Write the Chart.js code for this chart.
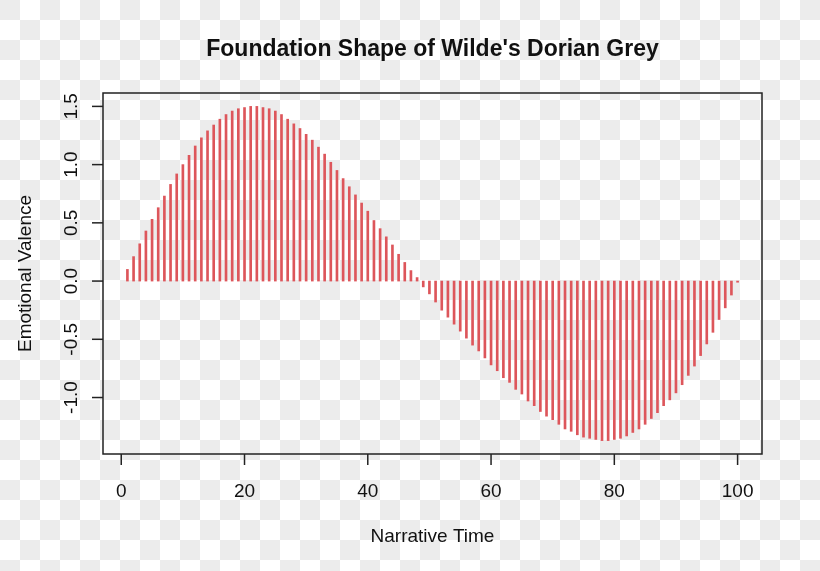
<!DOCTYPE html>
<html>
<head>
<meta charset="utf-8">
<title>Foundation Shape of Wilde's Dorian Grey</title>
<script src="https://cdn.jsdelivr.net/npm/chart.js@4"></script>
<style>
  html, body {
    margin: 0;
    padding: 0;
  }
  body {
    width: 820px;
    height: 571px;
    overflow: hidden;
    background-color: #fff;
    /* transparent-png checkerboard seen behind the original plot */
    background-image: conic-gradient(#fff 25%, #ececec 0 50%, #fff 0 75%, #ececec 0);
    background-size: 40px 40px;
  }
  #chart {
    display: block;
  }
</style>
</head>
<body>
<canvas id="chart" width="820" height="571"></canvas>
<script>
/* ---- Data ---- */
const narrativeTime = [
    1, 2, 3, 4, 5, 6, 7, 8, 9, 10,
    11, 12, 13, 14, 15, 16, 17, 18, 19, 20,
    21, 22, 23, 24, 25, 26, 27, 28, 29, 30,
    31, 32, 33, 34, 35, 36, 37, 38, 39, 40,
    41, 42, 43, 44, 45, 46, 47, 48, 49, 50,
    51, 52, 53, 54, 55, 56, 57, 58, 59, 60,
    61, 62, 63, 64, 65, 66, 67, 68, 69, 70,
    71, 72, 73, 74, 75, 76, 77, 78, 79, 80,
    81, 82, 83, 84, 85, 86, 87, 88, 89, 90,
    91, 92, 93, 94, 95, 96, 97, 98, 99, 100
];

const emotionalValence = [
    0.10, 0.21, 0.32, 0.43, 0.53, 0.63, 0.73, 0.83, 0.92, 1.00,
    1.08, 1.16, 1.23, 1.29, 1.34, 1.39, 1.43, 1.46, 1.48, 1.49,
    1.50, 1.50, 1.49, 1.48, 1.46, 1.43, 1.39, 1.35, 1.31, 1.26,
    1.21, 1.15, 1.09, 1.02, 0.95, 0.88, 0.81, 0.74, 0.67, 0.60,
    0.52, 0.45, 0.38, 0.31, 0.23, 0.16, 0.09, 0.03, -0.05, -0.11,
    -0.18, -0.25, -0.31, -0.37, -0.43, -0.49, -0.55, -0.60, -0.66, -0.72,
    -0.77, -0.83, -0.87, -0.93, -0.97, -1.03, -1.07, -1.12, -1.16, -1.19,
    -1.23, -1.27, -1.29, -1.32, -1.34, -1.35, -1.36, -1.37, -1.37, -1.36,
    -1.35, -1.33, -1.30, -1.27, -1.23, -1.18, -1.13, -1.07, -1.02, -0.96,
    -0.89, -0.81, -0.73, -0.64, -0.54, -0.44, -0.33, -0.23, -0.12, -0.01
];

const xTicks = [0, 20, 40, 60, 80, 100];
const xTickLabels = ['0', '20', '40', '60', '80', '100'];
const yTicks = [-1.0, -0.5, 0.0, 0.5, 1.0, 1.5];
const yTickLabels = ['-1.0', '-0.5', '0.0', '0.5', '1.0', '1.5'];

const chartTitle = "Foundation Shape of Wilde's Dorian Grey";
const xTitle = 'Narrative Time';
const yTitle = 'Emotional Valence';

/* ---- R-style box, axes and labels ---- */
const FONT = '"Liberation Sans", Arial, Helvetica, sans-serif';
const INK = '#111';

const baseAxes = {
    id: 'baseAxes',
    afterDraw(chart) {
        const ctx = chart.ctx;
        const area = chart.chartArea;
        const xs = chart.scales.x;
        const ys = chart.scales.y;
        const tickLen = 11;

        ctx.save();
        ctx.strokeStyle = '#222';
        ctx.lineWidth = 1.5;
        ctx.strokeRect(area.left, area.top, area.right - area.left, area.bottom - area.top);

        // x axis ticks + labels
        ctx.fillStyle = INK;
        ctx.font = '19px ' + FONT;
        ctx.textAlign = 'center';
        ctx.textBaseline = 'alphabetic';
        xTicks.forEach((v, i) => {
            const px = xs.getPixelForValue(v);
            ctx.beginPath();
            ctx.moveTo(px, area.bottom);
            ctx.lineTo(px, area.bottom + tickLen);
            ctx.stroke();
            ctx.fillText(xTickLabels[i], px, area.bottom + 43);
        });

        // y axis ticks + rotated labels
        yTicks.forEach((v, i) => {
            const py = ys.getPixelForValue(v);
            ctx.beginPath();
            ctx.moveTo(area.left, py);
            ctx.lineTo(area.left - tickLen, py);
            ctx.stroke();
            ctx.save();
            ctx.translate(area.left - 26, py);
            ctx.rotate(-Math.PI / 2);
            ctx.fillText(yTickLabels[i], 0, 0);
            ctx.restore();
        });

        // axis titles
        const midX = (area.left + area.right) / 2;
        const midY = (area.top + area.bottom) / 2;
        ctx.fillText(xTitle, midX, area.bottom + 88);
        ctx.save();
        ctx.translate(31, midY);
        ctx.rotate(-Math.PI / 2);
        ctx.fillText(yTitle, 0, 0);
        ctx.restore();

        // main title
        ctx.font = 'bold 23px ' + FONT;
        ctx.fillText(chartTitle, midX, 56);
        ctx.restore();
    }
};

new Chart(document.getElementById('chart'), {
    type: 'bar',
    data: {
        datasets: [{
            label: yTitle,
            data: narrativeTime.map((t, i) => ({ x: t, y: emotionalValence[i] })),
            backgroundColor: '#dd565b',
            borderWidth: 0,
            barThickness: 2
        }]
    },
    options: {
        responsive: false,
        animation: false,
        devicePixelRatio: 1,
        layout: {
            padding: { left: 103, right: 58, top: 93, bottom: 117 }
        },
        scales: {
            x: {
                type: 'linear',
                min: -2.96,
                max: 103.96,
                display: false,
                offset: false
            },
            y: {
                min: -1.485,
                max: 1.615,
                display: false
            }
        },
        plugins: {
            legend: { display: false },
            tooltip: { enabled: false },
            title: { display: false }
        }
    },
    plugins: [baseAxes]
});
</script>
</body>
</html>
